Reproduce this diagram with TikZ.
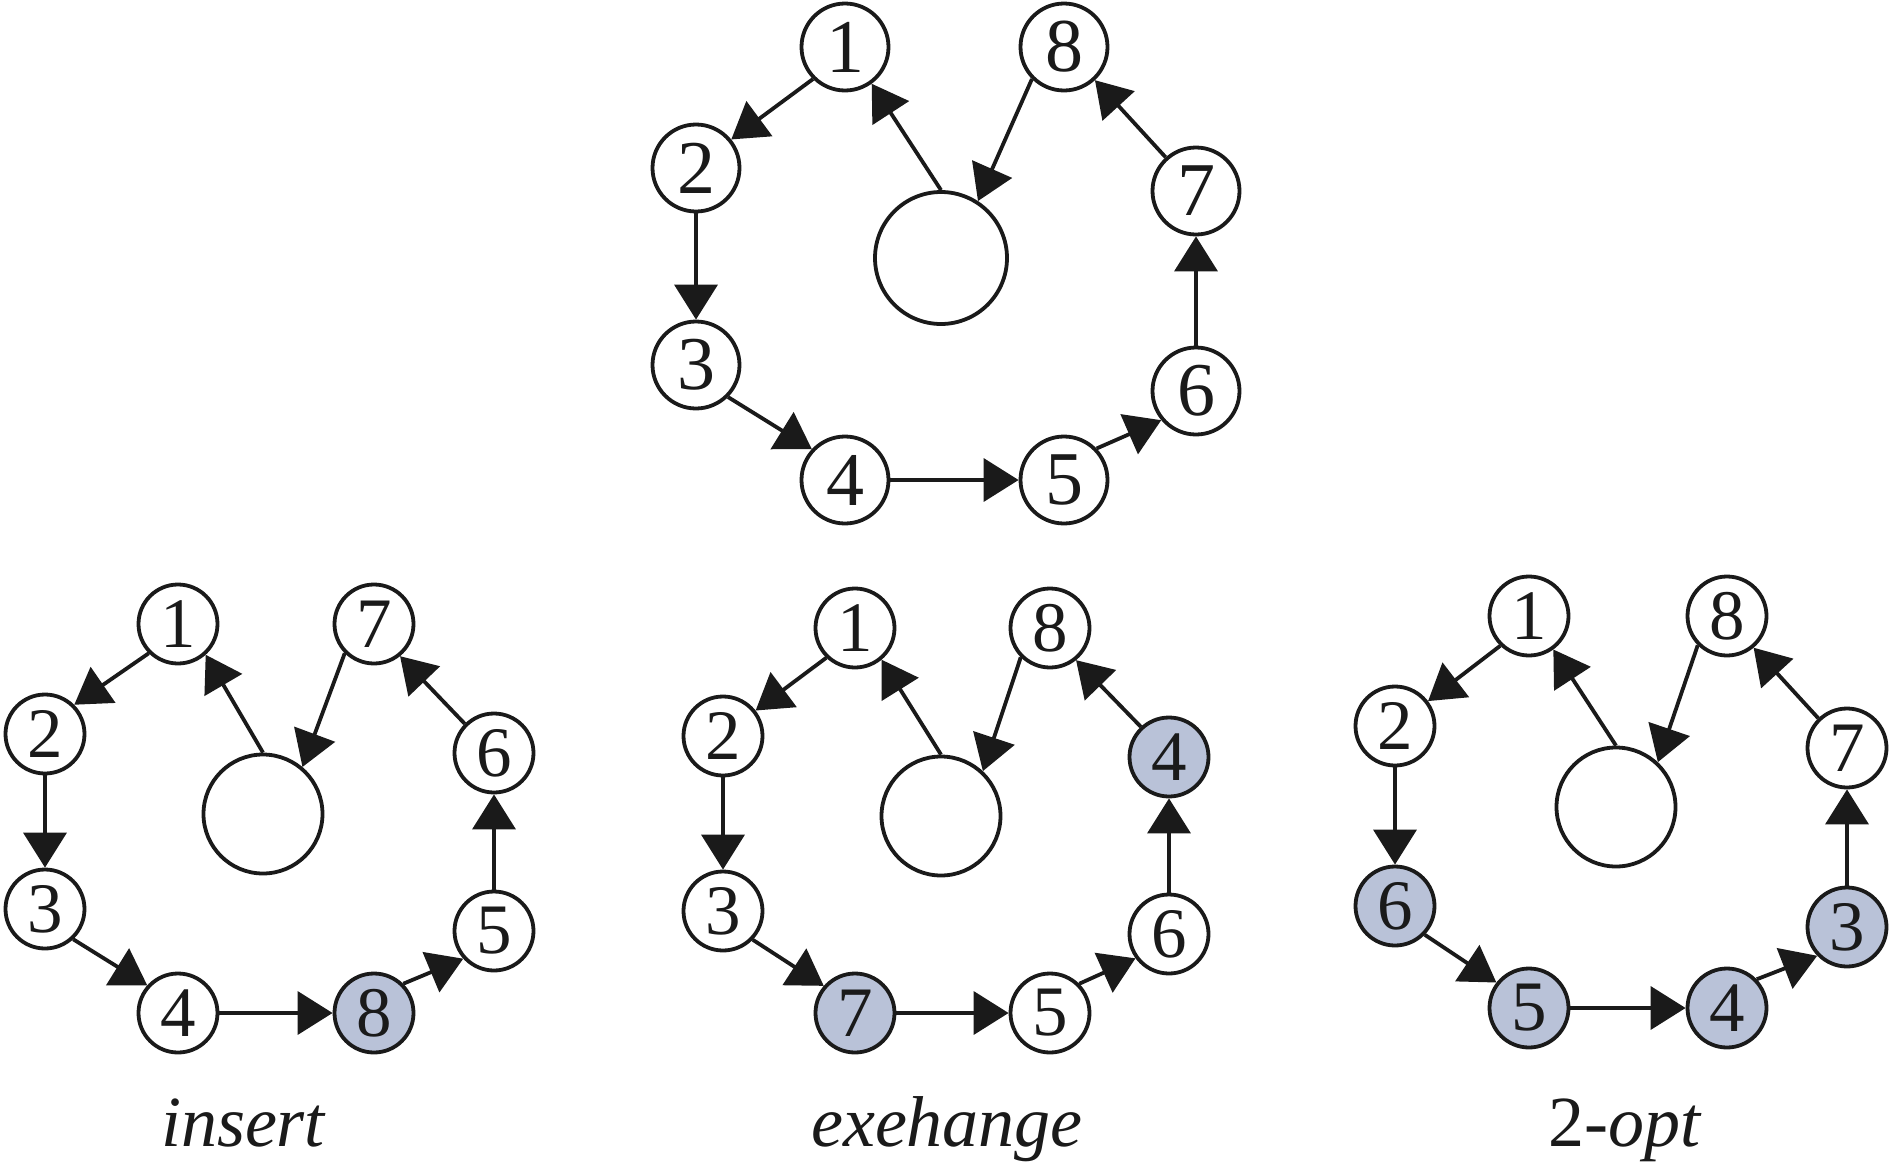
\documentclass[tikz,border=0pt]{standalone}
\usepackage{fontspec}
\setmainfont{Liberation Serif}
\newfontfamily\tnr{Liberation Serif}
\usetikzlibrary{arrows.meta}
\definecolor{ink}{RGB}{26,26,26}
\definecolor{shade}{RGB}{185,194,216}
\tikzset{
  nd/.style={circle, draw=ink, text=ink, line width=3.8pt, minimum size=79pt, inner sep=0pt, fill=white, font=\tnr\fontsize{71}{71}\selectfont},
  ndtop/.style={nd, minimum size=87pt, font=\tnr\fontsize{76}{76}\selectfont},
  hl/.style={fill=shade},
  bigc/.style={circle, draw=ink, line width=3.8pt, minimum size=119pt, inner sep=0pt},
  arr/.style={draw=ink, line width=3.8pt, -{Triangle[length=35pt,width=43pt]}},
  lab/.style={anchor=base, text=ink, font=\tnr\fontsize{72}{72}\selectfont}
}
\begin{document}
\begin{tikzpicture}[x=1pt,y=-1pt]
\useasboundingbox (0,0) rectangle (1891,1173);
% ---------- top ----------
\node[ndtop] (t1) at (845,47) {1};
\node[ndtop] (t8) at (1064,47) {8};
\node[ndtop] (t2) at (696,168) {2};
\node[ndtop] (t7) at (1196,191) {7};
\node[bigc, minimum size=132pt] (tb) at (941,258) {};
\node[ndtop] (t3) at (696,365) {3};
\node[ndtop] (t6) at (1196,391) {6};
\node[ndtop] (t4) at (845,480) {4};
\node[ndtop] (t5) at (1064,480) {5};
\draw[arr] (t1.225) -- (t2.39);
\draw[arr] (t2.south) -- (t3.north);
\draw[arr] (t3.315) -- (t4.137);
\draw[arr] (t4.east) -- (t5.west);
\draw[arr] (t5.44) -- (t6.220);
\draw[arr] (t6.north) -- (t7.south);
\draw[arr] (t7.132) -- (t8.313);
\draw[arr] (t8.225) -- (tb.57);
\draw[arr] (tb.north) -- (t1.306);
% ---------- insert ----------
\node[nd] (a1) at (178,624) {1};
\node[nd] (a7) at (374,624) {7};
\node[nd] (a2) at (45,734) {2};
\node[nd] (a6) at (494,753) {6};
\node[bigc] (ab) at (263,814) {};
\node[nd] (a3) at (45,909) {3};
\node[nd] (a5) at (494,931) {5};
\node[nd] (a4) at (178,1013) {4};
\node[nd, hl] (a8) at (374,1013) {8};
\draw[arr] (a1.225) -- (a2.45);
\draw[arr] (a2.south) -- (a3.north);
\draw[arr] (a3.313) -- (a4.138);
\draw[arr] (a4.east) -- (a8.west);
\draw[arr] (a8.45) -- (a5.222);
\draw[arr] (a5.north) -- (a6.south);
\draw[arr] (a6.135) -- (a7.309);
\draw[arr] (a7.225) -- (ab.50);
\draw[arr] (ab.north) -- (a1.312);
\node[lab] (la) at (243,1146) {\itshape insert};
% ---------- exehange ----------
\node[nd] (b1) at (855,628) {1};
\node[nd] (b8) at (1050,628) {8};
\node[nd] (b2) at (723,736) {2};
\node[nd, hl] (b4) at (1169,757) {4};
\node[bigc] (bb) at (941,816) {};
\node[nd] (b3) at (723,911) {3};
\node[nd] (b6) at (1169,934) {6};
\node[nd, hl] (b7) at (855,1013) {7};
\node[nd] (b5) at (1050,1013) {5};
\draw[arr] (b1.226) -- (b2.38);
\draw[arr] (b2.south) -- (b3.north);
\draw[arr] (b3.316) -- (b7.139);
\draw[arr] (b7.east) -- (b5.west);
\draw[arr] (b5.45) -- (b6.216);
\draw[arr] (b6.north) -- (b4.south);
\draw[arr] (b4.133) -- (b8.309);
\draw[arr] (b8.225) -- (bb.47);
\draw[arr] (bb.north) -- (b1.310);
\node[lab] (lb) at (947,1146) {\itshape exehange};
% ---------- 2-opt ----------
\node[nd] (c1) at (1529,616) {1};
\node[nd] (c8) at (1727,616) {8};
\node[nd] (c2) at (1395,726) {2};
\node[nd] (c7) at (1847,748) {7};
\node[bigc] (cb) at (1616,807) {};
\node[nd, hl] (c6) at (1395,906) {6};
\node[nd, hl] (c3) at (1847,927) {3};
\node[nd, hl] (c5) at (1529,1008) {5};
\node[nd, hl] (c4) at (1727,1008) {4};
\draw[arr] (c1.226) -- (c2.37);
\draw[arr] (c2.south) -- (c6.north);
\draw[arr] (c6.316) -- (c5.142);
\draw[arr] (c5.east) -- (c4.west);
\draw[arr] (c4.44) -- (c3.224);
\draw[arr] (c3.north) -- (c7.south);
\draw[arr] (c7.134) -- (c8.310);
\draw[arr] (c8.225) -- (cb.47);
\draw[arr] (cb.north) -- (c1.306);
\node[lab] (lc) at (1624,1146) {2-{\itshape opt}};
\end{tikzpicture}
\end{document}
